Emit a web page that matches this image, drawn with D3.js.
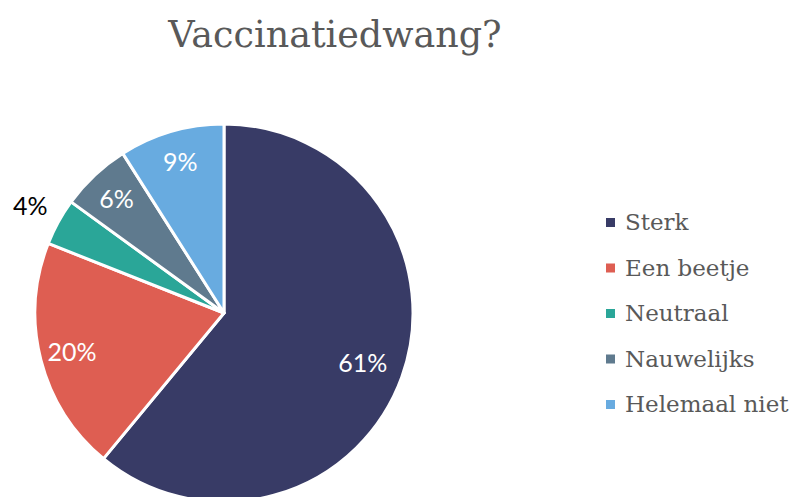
<!DOCTYPE html>
<html>
<head>
<meta charset="utf-8">
<script src="https://cdn.jsdelivr.net/npm/d3@7"></script>
<style>
  body { margin: 0; background: #fff; }
  svg text { font-family: "DejaVu Serif", serif; }
</style>
</head>
<body>
<svg id="chart" width="793" height="497"></svg>
<script>
/* global d3 */

var categories = ['Sterk', 'Een beetje', 'Neutraal', 'Nauwelijks', 'Helemaal niet'];
var values = [61, 20, 4, 6, 9];
var colors = ['#383b66', '#de5e52', '#2aa698', '#5f7a8e', '#68abe0'];
var title = 'Vaccinatiedwang?';

var width = 793, height = 497;
var cx = 224, cy = 313, radius = 189;

var svg = d3.select('#chart');

svg.append('text')
  .attr('x', 335).attr('y', 47)
  .attr('text-anchor', 'middle')
  .style('font-size', '36.5px')
  .style('fill', '#595959')
  .text(title);

var data = categories.map((c, i) => ({ name: c, value: values[i], color: colors[i] }));

var pie = d3.pie().value(d => d.value).sort(null);
var arc = d3.arc().innerRadius(0).outerRadius(radius);
var arcs = pie(data);

var g = svg.append('g').attr('transform', `translate(${cx},${cy})`);

g.selectAll('path.slice')
  .data(arcs).enter()
  .append('path').attr('class', 'slice')
  .attr('d', arc)
  .attr('fill', d => d.data.color)
  .attr('stroke', '#fff')
  .attr('stroke-width', 3)
  .attr('stroke-linejoin', 'round');

// labels inside for big slices, outside for the small one
// the big slice sits a bit closer to the centre, as in the original
function labelPos(d) {
  var f = d.data.value < 5 ? 1.17 : (d.data.value > 50 ? 0.78 : 0.83);
  var a = d3.arc().innerRadius(radius * f).outerRadius(radius * f);
  return a.centroid(d);
}

g.selectAll('text.pct')
  .data(arcs).enter()
  .append('text').attr('class', 'pct')
  .attr('transform', d => {
    var p = labelPos(d);
    return `translate(${p[0]},${p[1]})`;
  })
  .attr('text-anchor', 'middle')
  .attr('dy', '0.36em')
  .style('font-family', 'Lato, sans-serif')
  .style('font-size', '25px')
  .style('fill', d => d.data.value < 5 ? '#000' : '#fff')
  .text(d => d.data.value + '%');

var legend = svg.append('g').attr('transform', 'translate(606,230)');
var rowH = 45.5;

var rows = legend.selectAll('g.row')
  .data(data).enter()
  .append('g').attr('class', 'row')
  .attr('transform', (d, i) => `translate(0,${i * rowH})`);

rows.append('rect')
  .attr('x', 0).attr('y', -12)
  .attr('width', 9).attr('height', 9)
  .attr('fill', d => d.color);

rows.append('text')
  .attr('x', 19).attr('y', 0)
  .style('font-size', '23px')
  .style('fill', '#595959')
  .text(d => d.name);
</script>
</body>
</html>
